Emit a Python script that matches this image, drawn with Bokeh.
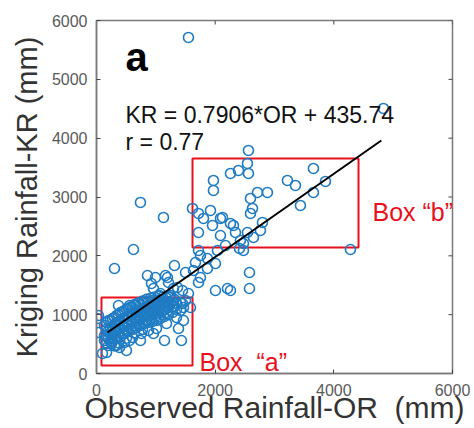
from bokeh.plotting import figure
from bokeh.models import Range1d, FixedTicker, Label, ColumnDataSource
from bokeh.embed import file_html
from bokeh.resources import INLINE

# ---- data ----
obs_or = [
    1550, 4836, 4280, 741, 1129, 623, 303, 859, 927, 960, 1196, 1314,
    2561, 2544, 2561, 2393, 2258, 1971, 1971, 3218, 3353, 2881, 2713, 2595, 2629, 2595,
    1618, 1719, 1921, 1803, 2089, 2258, 2797, 3437, 3656, 3859, 3656, 2123, 1955, 1719,
    2089, 2342, 2308, 2544, 2763, 2426, 2477, 2410, 2477, 2645, 2174, 2039,
    2578, 2578, 2258, 2207, 2005, 1719, 1870, 1668, 1634, 1752, 1719, 1870, 2005, 1752,
    994, 1163, 1213, 1365, 1449, 1078, 1247, 1550, 1500, 1500, 1297, 1449, 1584, 1466,
    1382, 1146, 1432, 1348, 1180, 960, 758, 556, 388, 253, 505, 169, 34, 34, 371, 556,
    1062, 1230, 1466, 100, 17,
    135, 135, 135,
    202, 202, 202, 202,
    270, 270, 270, 270,
    337, 337, 337, 337, 337,
    404, 404, 404, 404,
    472, 472, 472, 472, 472,
    539, 539, 539, 539,
    607, 607, 607, 607, 607,
    674, 674, 674, 674,
    741, 741, 741, 741, 741,
    809, 809, 809, 809,
    876, 876, 876, 876, 876,
    944, 944, 944, 944,
    1011, 1011, 1011, 1011, 1011,
    1078, 1078, 1078, 1078,
    1146, 1146, 1146,
    1213, 1213, 1213,
    1281, 1281, 1281,
    1348, 1348,
    1415, 1415,
    168, 168, 168, 168,
    236, 236, 236, 236,
    303, 303, 303, 303, 303,
    371, 371, 371, 371, 371,
    438, 438, 438, 438,
    505, 505, 505, 505, 505,
    573, 573, 573, 573,
    640, 640, 640, 640, 640,
    708, 708, 708, 708,
    775, 775, 775, 775, 775,
    843, 843, 843, 843,
    910, 910, 910, 910,
    977, 977, 977, 977,
    1045, 1045, 1045, 1045,
    1112, 1112, 1112,
    1180, 1180, 1180,
    1247, 1247,
    1314, 1314,
]
krig_kr = [
    5712, 4505, 2108, 2907, 2652, 2108, 1785, 1666, 1530, 1445, 1632, 1836,
    3791, 3570, 3400, 3451, 3400, 3281, 3111, 3281, 3196, 3077, 3077, 2975, 2805, 2720,
    2805, 2720, 2771, 2635, 2635, 2550, 2567, 2856, 3485, 3264, 3077, 2652, 2516, 2397,
    2346, 2397, 2516, 2397, 2431, 2261, 2091, 2125, 2210, 2312, 2176, 2091,
    1717, 1445, 1411, 1445, 1411, 2091, 1955, 1887, 1751, 1632, 1547, 1785, 1870, 2006,
    1632, 1666, 1547, 1462, 1411, 1360, 1326, 1360, 1241, 1717, 1445, 1190, 1122, 901,
    765, 561, 561, 952, 850, 680, 680, 561, 442, 510, 391, 357, 986, 697, 1156, 1156,
    1326, 1292, 1122, 340, 935,
    816, 646, 561,
    901, 731, 595, 476,
    935, 799, 663, 544,
    986, 867, 731, 612, 476,
    1037, 901, 765, 629,
    1071, 935, 799, 680, 527,
    1105, 969, 833, 714,
    1122, 1003, 884, 748, 612,
    1156, 1037, 901, 782,
    1173, 1054, 935, 816, 561,
    1207, 1088, 969, 850,
    1224, 1105, 986, 867, 731,
    1241, 1122, 1003, 884,
    1241, 1139, 1020, 901, 765,
    1258, 1156, 1037, 935,
    1207, 1088, 969,
    1224, 1122, 1003,
    1241, 1139, 1037,
    1190, 1088,
    1207, 1071,
    870, 750, 630, 510,
    900, 780, 660, 540,
    950, 830, 710, 590, 470,
    1000, 880, 760, 640, 520,
    1050, 930, 810, 690,
    1090, 970, 850, 730, 600,
    1130, 1010, 890, 770,
    1170, 1050, 930, 810, 690,
    1200, 1080, 960, 840,
    1230, 1110, 990, 870, 750,
    1260, 1140, 1020, 900,
    1280, 1160, 1040, 920,
    1300, 1180, 1060, 940,
    1320, 1200, 1080, 960,
    1300, 1180, 1060,
    1280, 1160, 1040,
    1300, 1180,
    1260, 1140,
]

fit_or = [185, 4800]
fit_kr = [697, 3960]

box_left = [84, 1618]
box_right = [1618, 4416]
box_bottom = [136, 2142]
box_top = [1292, 3655]

x_ticks = [0, 2000, 4000, 6000]
y_ticks = [0, 1000, 2000, 3000, 4000, 5000, 6000]

equation = "KR = 0.7906*OR + 435.74"
corr = "r = 0.77"
panel = "a"
box_a_label = "Box \u00a0\u201ca\u201d"
box_b_label = "Box \u201cb\u201d"
x_title = "Observed Rainfall-OR \u00a0(mm)"
y_title = "Kriging Rainfall-KR (mm)"

X0, X1, Y0, Y1 = 0, 6000, 0, 6000
TICK_LEN_DATA = 68  # ~4 px at this scale, for the top/right box ticks

# ---- figure ----
p = figure(width=474, height=428, output_backend="svg", toolbar_location=None,
           x_range=Range1d(X0, X1), y_range=Range1d(Y0, Y1),
           min_border_left=96, min_border_right=22, min_border_top=20, min_border_bottom=55)
p.background_fill_color = "white"
p.border_fill_color = "white"
p.outline_line_color = "#7a7a7a"
p.outline_line_width = 1.5
p.xgrid.visible = False
p.ygrid.visible = False

for ax, ticks in ((p.xaxis[0], x_ticks), (p.yaxis[0], y_ticks)):
    ax.ticker = FixedTicker(ticks=ticks)
    ax.minor_tick_line_color = None
    ax.major_tick_in = 4
    ax.major_tick_out = 0
    ax.major_tick_line_color = "#444444"
    ax.axis_line_color = "#7a7a7a"
    ax.axis_line_width = 1.5
    ax.major_label_text_font = "Liberation Sans"
    ax.major_label_text_font_size = "16px"
    ax.major_label_text_color = "#5a5a5a"
    ax.axis_label_text_font = "Liberation Sans"
    ax.axis_label_text_font_style = "normal"
    ax.axis_label_text_color = "#333333"

p.xaxis.axis_label = x_title
p.yaxis.axis_label = y_title
p.xaxis.axis_label_text_font_size = "30px"
p.yaxis.axis_label_text_font_size = "29px"
p.xaxis.major_label_standoff = 10
p.xaxis.axis_label_standoff = -8
p.yaxis.major_label_standoff = 9
p.yaxis.axis_label_standoff = 6

# ticks on the top and right edges of the box (MATLAB style)
p.segment(x0=x_ticks, y0=[Y1] * len(x_ticks), x1=x_ticks,
          y1=[Y1 - TICK_LEN_DATA] * len(x_ticks), line_color="#444444", line_width=1)
p.segment(x0=[X1] * len(y_ticks), y0=y_ticks, x1=[X1 - TICK_LEN_DATA] * len(y_ticks),
          y1=y_ticks, line_color="#444444", line_width=1)

# boxes
p.quad(left=box_left, right=box_right, bottom=box_bottom, top=box_top,
       fill_color=None, line_color="#e8101c", line_width=2)

# scatter
src = ColumnDataSource(dict(x=obs_or, y=krig_kr))
p.scatter("x", "y", source=src, marker="circle", size=10, fill_color=None,
          line_color="#1f7cc4", line_width=1.6)

# fit line
p.line(fit_or, fit_kr, line_color="black", line_width=2)

# texts
p.add_layout(Label(x=489, y=5372, text=panel, text_font="Liberation Sans",
                   text_font_style="bold", text_font_size="40px", text_color="black",
                   text_baseline="alphabetic"))
p.add_layout(Label(x=489, y=4386, text=equation, text_font="Liberation Sans",
                   text_font_size="23px", text_color="#111111", text_baseline="alphabetic"))
p.add_layout(Label(x=489, y=3927, text=corr, text_font="Liberation Sans",
                   text_font_size="23px", text_color="#111111", text_baseline="alphabetic"))
p.add_layout(Label(x=4651, y=2737, text=box_b_label, text_font="Liberation Sans",
                   text_font_size="25px", text_color="#e8101c", text_baseline="alphabetic"))
p.add_layout(Label(x=1736, y=187, text=box_a_label, text_font="Liberation Sans",
                   text_font_size="25px", text_color="#e8101c", text_baseline="alphabetic"))

open("out.html", "w").write(file_html(p, INLINE))
